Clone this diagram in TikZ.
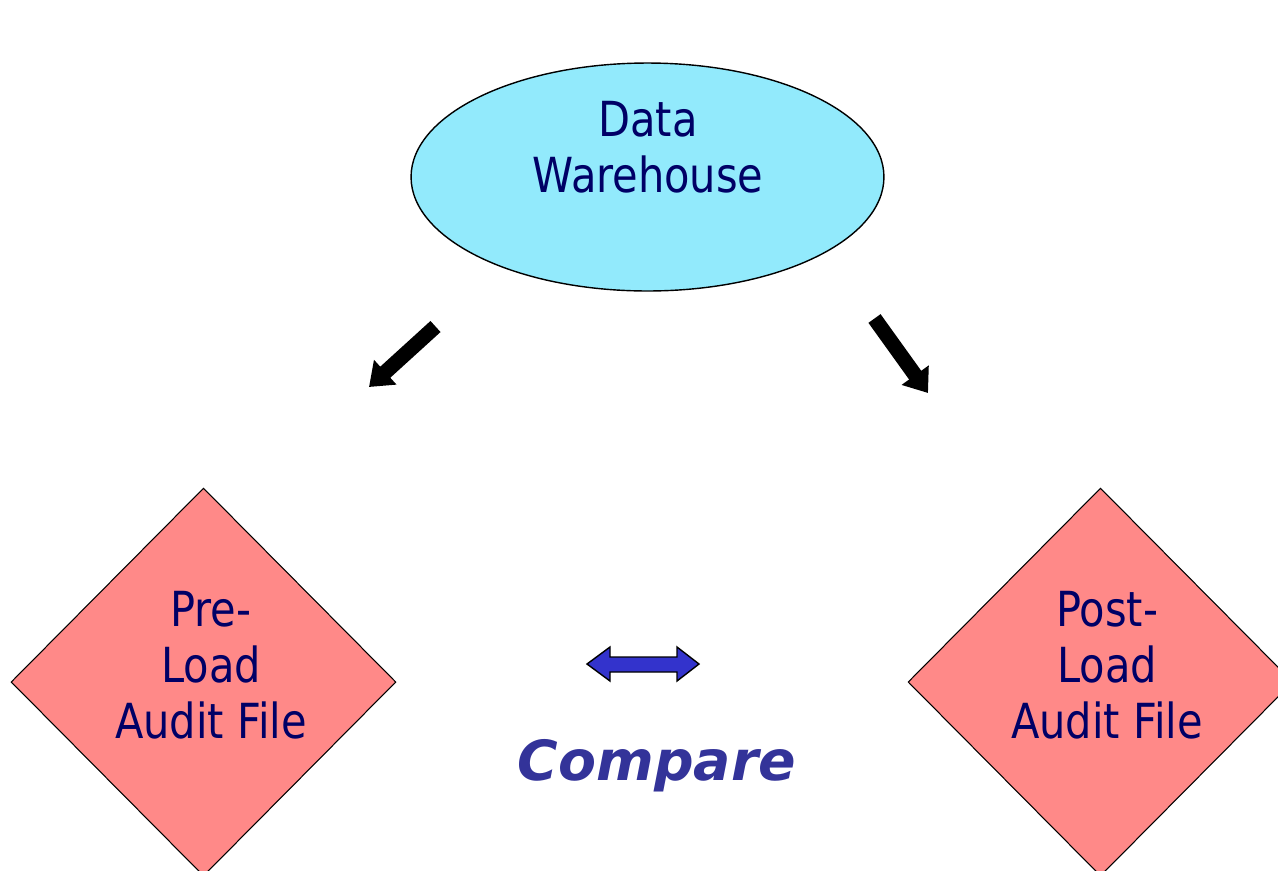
\documentclass[tikz,border=0pt]{standalone}
\usepackage{fontspec}
\setmainfont{DejaVu Sans}[FakeStretch=0.86]
\newfontfamily\cmpfont{DejaVu Sans}
\usetikzlibrary{shapes.geometric,arrows.meta}
\definecolor{dwfill}{RGB}{146,234,252}
\definecolor{auditfill}{RGB}{255,137,136}
\definecolor{navytext}{RGB}{0,0,102}
\definecolor{cmpblue}{RGB}{51,51,153}
\definecolor{arrowblue}{RGB}{51,51,204}
\tikzset{
  dwshape/.style={ellipse, draw=black, line width=0.8pt, fill=dwfill,
    minimum width=9.46cm, minimum height=4.56cm, inner sep=0pt},
  auditshape/.style={diamond, draw=black, line width=0.6pt, fill=auditfill,
    minimum width=7.7cm, minimum height=7.76cm, inner sep=0pt},
  lbl/.style={text=navytext, align=center, font=\fontsize{27.5}{32}\selectfont, inner sep=0pt},
  flow/.style={line width=8.5pt, -{Triangle[length=0.44cm,width=0.64cm]}},
}
\begin{document}
\begin{tikzpicture}[x=0.02cm,y=-0.02cm]
\useasboundingbox (0,0) rectangle (1278,870);
\clip (0,0) rectangle (1278,870);
% Data warehouse
\node[dwshape] (dw) at (647.5,177) {};
\node[lbl] (dwtxt) at (648,147) {Data\\Warehouse};
% audit files
\node[auditshape] (pre) at (203.5,682) {};
\node[lbl] (pretxt) at (211,665) {Pre-\\Load\\Audit File};
\node[auditshape] (post) at (1100.5,682) {};
\node[lbl] (posttxt) at (1107,665) {Post-\\Load\\Audit File};
% flow arrows
\coordinate (ltail) at (435.5,326.5);
\coordinate (ltip) at (369,387);
\coordinate (rtail) at (874.5,318.5);
\coordinate (rtip) at (928,393);
\draw[flow] (ltail) -- (ltip);
\draw[flow] (rtail) -- (rtip);
% compare double arrow
\draw[line width=0.8pt, fill=arrowblue, line join=miter]
  (587,664) -- (610,647) -- (610,657) -- (677,657) -- (677,647) -- (699,664)
  -- (677,681) -- (677,672) -- (610,672) -- (610,681) -- cycle;
\node[text=cmpblue, font=\cmpfont\bfseries\itshape\fontsize{31.5}{36}\selectfont, anchor=base, inner sep=0pt] (cmp) at (657,780) {Compare};
\end{tikzpicture}
\end{document}
